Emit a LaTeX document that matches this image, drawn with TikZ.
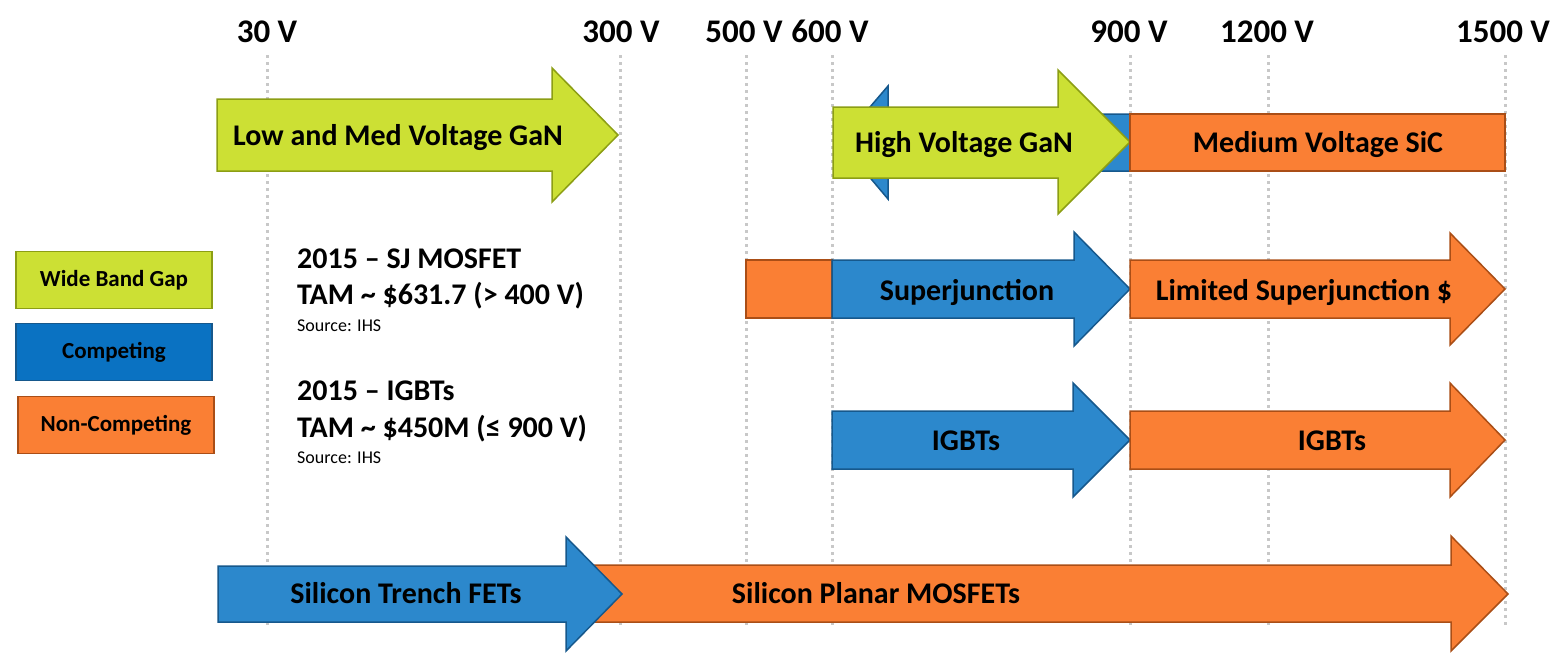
\documentclass[tikz,border=0pt]{standalone}
\usepackage{fontspec}
\setmainfont{Carlito}
\usepackage{tikz}
\definecolor{GaNGreen}{RGB}{204,224,52}
\definecolor{GaNEdge}{RGB}{140,158,20}
\definecolor{CompBlue}{RGB}{44,136,204}
\definecolor{CompEdge}{RGB}{22,88,140}
\definecolor{KeyBlue}{RGB}{10,114,194}
\definecolor{NonOrange}{RGB}{250,127,52}
\definecolor{NonEdge}{RGB}{170,78,22}
\definecolor{GridGray}{RGB}{200,200,200}
\pgfdeclarelayer{edgelayer}
\pgfdeclarelayer{nodelayer}
\pgfsetlayers{edgelayer,main,nodelayer}
\tikzstyle{none}=[inner sep=0pt]
\tikzstyle{volt}=[anchor=base,inner sep=0pt,font=\bfseries\fontsize{33}{38}\selectfont]
\tikzstyle{lbl}=[anchor=base,inner sep=0pt,font=\bfseries\fontsize{30}{36}\selectfont]
\tikzstyle{note}=[anchor=base west,inner sep=0pt,font=\bfseries\fontsize{30}{36}\selectfont]
\tikzstyle{src}=[anchor=base west,inner sep=0pt,font=\fontsize{18}{22}\selectfont]
\tikzstyle{keybox}=[rectangle,minimum width=196,minimum height=57,inner sep=0pt,line width=1.5pt,font=\bfseries\fontsize{23}{27}\selectfont]
\tikzstyle{keygan}=[keybox,fill=GaNGreen,draw=GaNEdge]
\tikzstyle{keycomp}=[keybox,fill=KeyBlue,draw=CompEdge]
\tikzstyle{keynon}=[keybox,fill=NonOrange,draw=NonEdge]
\tikzstyle{gan}=[fill=GaNGreen,draw=GaNEdge,line width=1.5pt,line join=miter]
\tikzstyle{comp}=[fill=CompBlue,draw=CompEdge,line width=1.5pt,line join=miter]
\tikzstyle{noncomp}=[fill=NonOrange,draw=NonEdge,line width=1.5pt,line join=miter]
\tikzstyle{grid}=[-,draw=GridGray,line width=3pt,dash pattern=on 3pt off 4pt]

\begin{document}
\begin{tikzpicture}[x=1pt,y=-1pt]
	\useasboundingbox (0,0) rectangle (1558,665);
	\begin{pgfonlayer}{nodelayer}
		\node [style=none] (0) at (267, 55) {};
		\node [style=none] (1) at (267, 628) {};
		\node [style=none] (2) at (620, 55) {};
		\node [style=none] (3) at (620, 628) {};
		\node [style=none] (4) at (746, 55) {};
		\node [style=none] (5) at (746, 628) {};
		\node [style=none] (6) at (832, 55) {};
		\node [style=none] (7) at (832, 628) {};
		\node [style=none] (8) at (1130, 55) {};
		\node [style=none] (9) at (1130, 628) {};
		\node [style=none] (10) at (1268, 55) {};
		\node [style=none] (11) at (1268, 628) {};
		\node [style=none] (12) at (1505, 55) {};
		\node [style=none] (13) at (1505, 628) {};
		\node [style=volt] (14) at (267, 42) {30 V};
		\node [style=volt] (15) at (621, 42) {300 V};
		\node [style=volt] (16) at (744, 42) {500 V};
		\node [style=volt] (17) at (830, 42) {600 V};
		\node [style=volt] (18) at (1129, 42) {900 V};
		\node [style=volt] (19) at (1267, 42) {1200 V};
		\node [style=volt] (20) at (1503, 42) {1500 V};
		\node [style=lbl] (21) at (398, 145) {Low and Med Voltage GaN};
		\node [style=lbl] (22) at (964, 152) {High Voltage GaN};
		\node [style=lbl] (23) at (1318, 152) {Medium Voltage SiC};
		\node [style=lbl] (24) at (967, 300) {Superjunction};
		\node [style=lbl] (25) at (1304, 300) {Limited Superjunction \$};
		\node [style=lbl] (26) at (966, 450) {IGBTs};
		\node [style=lbl] (27) at (1332, 450) {IGBTs};
		\node [style=lbl] (28) at (406, 603) {Silicon Trench FETs};
		\node [style=lbl] (29) at (876, 603) {Silicon Planar MOSFETs};
		\node [style=keygan] (30) at (114, 280) {Wide Band Gap};
		\node [style=keycomp] (31) at (114, 352) {Competing};
		\node [style=keynon] (32) at (116, 425) {Non-Competing};
		\node [style=note] (33) at (297, 268) {2015 – SJ MOSFET};
		\node [style=note] (34) at (297, 304) {TAM \textasciitilde{} \$631.7 (> 400 V)};
		\node [style=src] (35) at (297, 331) {Source: IHS};
		\node [style=note] (36) at (297, 400) {2015 – IGBTs};
		\node [style=note] (37) at (297, 437) {TAM \textasciitilde{} \$450M (≤ 900 V)};
		\node [style=src] (38) at (297, 463) {Source: IHS};
	\end{pgfonlayer}
	\begin{pgfonlayer}{edgelayer}
		\draw [style=grid] (0.center) to (1.center);
		\draw [style=grid] (2.center) to (3.center);
		\draw [style=grid] (4.center) to (5.center);
		\draw [style=grid] (6.center) to (7.center);
		\draw [style=grid] (8.center) to (9.center);
		\draw [style=grid] (10.center) to (11.center);
		\draw [style=grid] (12.center) to (13.center);
	\end{pgfonlayer}
	% top row
	\draw [style=gan] (217,99) -- (552,99) -- (552,68) -- (618,135) -- (552,202) -- (552,171) -- (217,171) -- cycle;
	\draw [style=comp] (1130,114) -- (888,114) -- (888,86) -- (840,142) -- (888,199) -- (888,171) -- (1130,171) -- cycle;
	\draw [style=gan] (833,107) -- (1058,107) -- (1058,70) -- (1130,142) -- (1058,214) -- (1058,178) -- (833,178) -- cycle;
	\draw [style=noncomp] (1130,114) rectangle (1505,171);
	% superjunction row
	\draw [style=noncomp] (746,260) rectangle (832,318);
	\draw [style=comp] (832,260) -- (1074,260) -- (1074,232) -- (1130,289) -- (1074,346) -- (1074,318) -- (832,318) -- cycle;
	\draw [style=noncomp] (1130,260) -- (1450,260) -- (1450,233) -- (1505,289) -- (1450,345) -- (1450,318) -- (1130,318) -- cycle;
	% igbt row
	\draw [style=comp] (832,411) -- (1073,411) -- (1073,383) -- (1130,440) -- (1073,497) -- (1073,469) -- (832,469) -- cycle;
	\draw [style=noncomp] (1130,411) -- (1450,411) -- (1450,383) -- (1505,440) -- (1450,497) -- (1450,469) -- (1130,469) -- cycle;
	% silicon row
	\draw [style=noncomp] (590,565) -- (1451,565) -- (1451,536) -- (1508,594) -- (1451,651) -- (1451,622) -- (590,622) -- cycle;
	\draw [style=comp] (218,566) -- (566,566) -- (566,537) -- (622,594) -- (566,651) -- (566,622) -- (218,622) -- cycle;
\end{tikzpicture}
\end{document}
